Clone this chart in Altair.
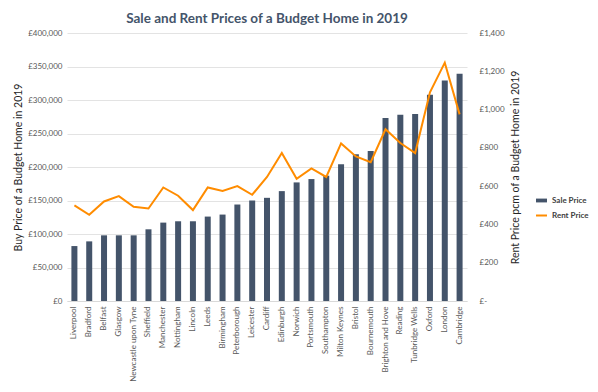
import altair as alt
import pandas as pd

cities = ["Liverpool", "Bradford", "Belfast", "Glasgow", "Newcastle upon Tyne", "Sheffield",
          "Manchester", "Nottingham", "Lincoln", "Leeds", "Birmingham", "Peterborough",
          "Leicester", "Cardiff", "Edinburgh", "Norwich", "Portsmouth", "Southampton",
          "Milton Keynes", "Bristol", "Bournemouth", "Brighton and Hove", "Reading",
          "Tunbridge Wells", "Oxford", "London", "Cambridge"]
sale_price = [82000, 89000, 98000, 98000, 98000, 107000, 117000, 119000, 119000, 126000,
              129000, 144000, 150000, 154000, 164000, 177000, 182000, 187000, 204000,
              219000, 224000, 273000, 278000, 279000, 308000, 329000, 339000]
rent_price = [500, 450, 520, 548, 492, 483, 593, 550, 475, 593, 575, 600, 555, 648, 773,
              638, 693, 648, 823, 755, 725, 897, 825, 773, 1090, 1245, 975]

df = pd.DataFrame({"city": cities, "sale": sale_price, "rent": rent_price})

FONT = "Lato"
LABEL_COLOR = "#595959"

x_enc = alt.X("city:N", sort=cities, title=None,
              scale=alt.Scale(paddingInner=0, paddingOuter=0),
              axis=alt.Axis(labelAngle=-90, labelFont=FONT, labelFontSize=8,
                            labelColor=LABEL_COLOR, ticks=False, domain=True,
                            domainColor="#d9d9d9", labelPadding=5, labelBaseline="middle"))

bars = alt.Chart(df).transform_calculate(series="'Sale Price'").mark_bar(size=6).encode(
    x=x_enc,
    y=alt.Y("sale:Q", scale=alt.Scale(domain=[0, 400000]),
            axis=alt.Axis(values=list(range(0, 400001, 50000)),
                          labelExpr="'£' + format(datum.value, ',')",
                          title="Buy Price of a Budget Home in 2019",
                          titleFont=FONT, titleFontSize=10.5, titleFontWeight="normal",
                          titleColor="#262626", titlePadding=4,
                          labelFont=FONT, labelFontSize=8, labelColor=LABEL_COLOR,
                          ticks=False, domain=False, gridColor="#e3e3e3", labelPadding=5)),
    color=alt.Color("series:N", scale=alt.Scale(domain=["Sale Price"], range=["#44546A"]),
                    legend=alt.Legend(title=None, orient="none", legendX=468, legendY=161,
                                      symbolType="M-1,-0.35H1V0.35H-1Z", symbolSize=120,
                                      labelFont=FONT, labelFontSize=8, labelFontWeight="bold",
                                      labelColor="#404040")),
)

line = alt.Chart(df).transform_calculate(series="'Rent Price'").mark_line(strokeWidth=2).encode(
    x=alt.X("city:N", sort=cities),
    y=alt.Y("rent:Q", scale=alt.Scale(domain=[0, 1400]),
            axis=alt.Axis(orient="right", values=list(range(0, 1401, 200)),
                          labelExpr="datum.value == 0 ? '£-' : '£' + format(datum.value, ',')",
                          title="Rent Price pcm of a Budget Home in 2019",
                          titleFont=FONT, titleFontSize=10.5, titleFontWeight="normal",
                          titleColor="#262626", titlePadding=16, titleAngle=270,
                          labelFont=FONT, labelFontSize=8, labelColor=LABEL_COLOR,
                          ticks=False, domain=False, grid=False, labelPadding=12)),
    color=alt.Color("series:N", scale=alt.Scale(domain=["Rent Price"], range=["#FF8C00"]),
                    legend=alt.Legend(title=None, orient="none", legendX=468, legendY=176,
                                      symbolType="stroke", symbolStrokeWidth=2, symbolSize=120,
                                      labelFont=FONT, labelFontSize=8, labelFontWeight="bold",
                                      labelColor="#404040")),
)

chart = alt.layer(bars, line).resolve_scale(y="independent", color="independent").properties(
    width=400, height=268,
    autosize="none",
    padding={"left": 59, "top": 25, "right": 123, "bottom": 83},
    title=alt.TitleParams("Sale and Rent Prices of a Budget Home in 2019", font=FONT,
                          fontSize=13.5, fontWeight="bold", color="#44546A",
                          anchor="middle", offset=4),
).configure_view(stroke=None)

chart.save("out.html", embed_options={"renderer": "svg", "actions": False})
